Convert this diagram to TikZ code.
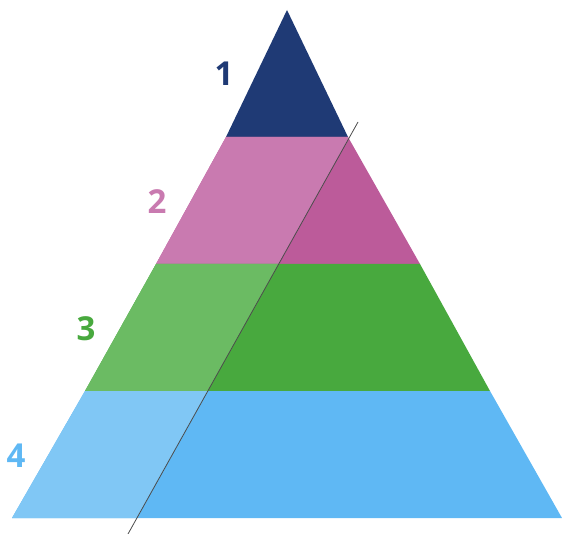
\documentclass[tikz,border=0pt]{standalone}
\usepackage{fontspec}
\setmainfont{Open Sans}
\definecolor{navy}{HTML}{1F3A75}
\definecolor{pinkL}{HTML}{C97AB0}
\definecolor{pinkD}{HTML}{BC5B9A}
\definecolor{greenL}{HTML}{6BBB63}
\definecolor{greenD}{HTML}{48A93E}
\definecolor{blueL}{HTML}{80C7F5}
\definecolor{blueD}{HTML}{5FB8F4}

\begin{document}
\begin{tikzpicture}[x=1pt, y=-1pt, num/.style={font=\bfseries\fontsize{33}{33}\selectfont, inner sep=0pt}, cut/.style={draw=black!70, line width=0.8pt}]
	\useasboundingbox (0,0) rectangle (562,534);
	% layer corners
	\coordinate (apex) at (287,10);
	\coordinate (l1) at (226,137); \coordinate (r1) at (348,137);
	\coordinate (l2) at (156,264); \coordinate (r2) at (420,264);
	\coordinate (l3) at (85,391);  \coordinate (r3) at (490,391);
	\coordinate (l4) at (12,518);  \coordinate (r4) at (562,518);
	\coordinate (cutA) at (358,122);
	\coordinate (cutB) at (128,534);
	% layers
	\fill[navy] (apex) -- (r1) -- (l1) -- cycle;
	\foreach \a/\b/\dk/\lt in {1/2/pinkD/pinkL, 2/3/greenD/greenL, 3/4/blueD/blueL} {
		\fill[\dk] (l\a) -- (r\a) -- (r\b) -- (l\b) -- cycle;
		\begin{scope}
			\clip (cutA) -- (cutB) -- (0,534) -- (0,0) -- (358,0) -- cycle;
			\fill[\lt] (l\a) -- (r\a) -- (r\b) -- (l\b) -- cycle;
		\end{scope}
	}
	\draw[cut] (cutA) -- (cutB);
	% numbers
	\node[num, navy] (n1) at (224,74) {1};
	\node[num, pinkL] (n2) at (157,202) {2};
	\node[num, greenD] (n3) at (86,329) {3};
	\node[num, blueD] (n4) at (16,456) {4};
\end{tikzpicture}
\end{document}
